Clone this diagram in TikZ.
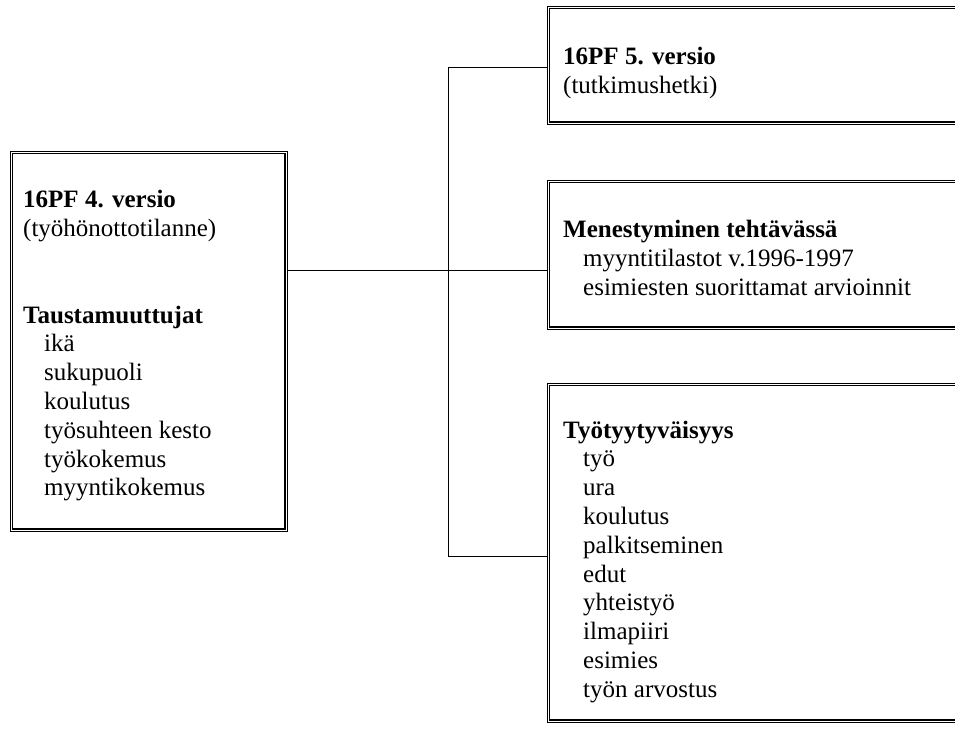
\documentclass[tikz,border=0pt]{standalone}
\usepackage{fontspec}
\setmainfont{Liberation Serif}
\usetikzlibrary{calc}

\tikzset{
  frame/.style={draw, line width=0.6pt, inner sep=0pt, anchor=north west},
  inner/.style={line width=1.3pt},
  head/.style={anchor=base west, inner sep=0pt, font=\fontsize{25}{28.8}\selectfont\bfseries},
  item/.style={anchor=base west, inner sep=0pt, font=\fontsize{25}{28.8}\selectfont},
  link/.style={line width=0.8pt},
}

\begin{document}
\begin{tikzpicture}[x=1pt,y=-1pt]
  \useasboundingbox (0,0) rectangle (955,731);
  \clip (0,0) rectangle (955,731);
  % boxes
  \node[frame,minimum width=277,minimum height=380] (vers4) at (10,151) {};
  \node[frame,minimum width=430,minimum height=118] (vers5) at (547,6) {};
  \node[frame,minimum width=430,minimum height=149] (menest) at (547,180) {};
  \node[frame,minimum width=430,minimum height=339] (tyyt) at (547,383) {};
  \foreach \b in {vers4,vers5,menest,tyyt}
    \draw[inner] ($(\b.north west)+(2.5,2.5)$) rectangle ($(\b.south east)+(-2.5,-2.5)$);

  % left box
  \node[head] (t4) at (23,207) {16PF 4. versio};
  \node[item] (t4b) at (23,236) {(työhönottotilanne)};
  \node[head] (tausta) at (23,323) {Taustamuuttujat};
  \foreach \w [count=\i] in {ikä,sukupuoli,koulutus,työsuhteen kesto,työkokemus,myyntikokemus}
    \node[item] (tausta\i) at (44,323+\i*28.8) {\w};

  % right boxes
  \node[head] (t5) at (563,64) {16PF 5. versio};
  \node[item] (t5b) at (563,93) {(tutkimushetki)};
  \node[head] (men) at (563,237) {Menestyminen tehtävässä};
  \node[item] (men1) at (583,266) {myyntitilastot v.1996-1997};
  \node[item] (men2) at (583,295) {esimiesten suorittamat arvioinnit};
  \node[head] (tyy) at (563,438) {Työtyytyväisyys};
  \foreach \w [count=\i] in {työ,ura,koulutus,palkitseminen,edut,yhteistyö,ilmapiiri,esimies,työn arvostus}
    \node[item] (tyy\i) at (583,438+\i*28.8) {\w};

  % connectors
  \coordinate (up) at (448,67);
  \coordinate (mid) at (448,270);
  \coordinate (down) at (448,556);
  \draw[link] (mid -| vers4.east) -- (mid -| menest.west);
  \draw[link] (up -| vers5.west) -- (up) -- (down) -- (down -| tyyt.west);
\end{tikzpicture}
\end{document}
